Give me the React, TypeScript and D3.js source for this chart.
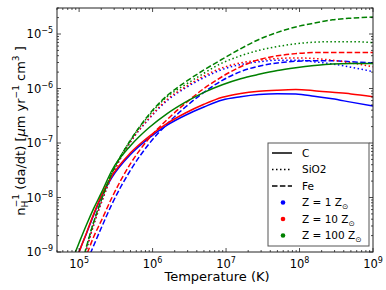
import * as d3 from "d3";

// temperature grid (K) and log10 of n_H^-1 da/dt
const temperature = [
  8.9e4, 1e5, 1.26e5, 1.58e5, 2e5, 2.8e5, 5e5, 8.9e5, 1.58e6, 2.8e6, 5e6, 8.9e6,
  1.58e7, 2.8e7, 5e7, 8.9e7, 1.58e8, 2.8e8, 5e8, 1e9,
];

const cZ1 = [-9.2, -9.0, -8.66, -8.32, -7.99, -7.63, -7.21, -6.91, -6.67, -6.49, -6.34, -6.21, -6.15, -6.11, -6.095, -6.1, -6.14, -6.19, -6.25, -6.32];
const cZ10 = [-9.2, -9.0, -8.65, -8.3, -7.97, -7.6, -7.18, -6.88, -6.64, -6.45, -6.29, -6.16, -6.09, -6.05, -6.03, -6.02, -6.04, -6.07, -6.1, -6.15];
const cZ100 = [-9.0, -8.83, -8.5, -8.2, -7.92, -7.5, -7.05, -6.72, -6.46, -6.25, -6.07, -5.93, -5.82, -5.74, -5.67, -5.62, -5.58, -5.55, -5.54, -5.54];

const sioZ1 = [-9.65, -9.45, -8.95, -8.5, -8.1, -7.6, -6.98, -6.56, -6.22, -5.99, -5.8, -5.65, -5.56, -5.51, -5.48, -5.48, -5.51, -5.55, -5.61, -5.69];
const sioZ10 = [-9.65, -9.45, -8.95, -8.5, -8.1, -7.6, -6.98, -6.55, -6.2, -5.97, -5.77, -5.62, -5.53, -5.48, -5.45, -5.44, -5.45, -5.48, -5.53, -5.6];
const sioZ100 = [-9.6, -9.4, -8.9, -8.45, -8.05, -7.55, -6.95, -6.5, -6.15, -5.93, -5.72, -5.53, -5.4, -5.3, -5.23, -5.18, -5.15, -5.14, -5.14, -5.16];

const feZ1 = [-9.7, -9.55, -9.2, -8.88, -8.56, -8.12, -7.5, -7.02, -6.65, -6.34, -6.07, -5.85, -5.69, -5.59, -5.53, -5.5, -5.49, -5.49, -5.51, -5.53];
const feZ10 = [-9.55, -9.4, -9.06, -8.72, -8.43, -8.0, -7.38, -6.92, -6.57, -6.27, -6.0, -5.78, -5.6, -5.47, -5.4, -5.36, -5.34, -5.34, -5.34, -5.34];
const feZ100 = [-9.6, -9.4, -8.9, -8.45, -8.05, -7.55, -6.95, -6.48, -6.13, -5.88, -5.66, -5.46, -5.27, -5.1, -4.97, -4.87, -4.8, -4.74, -4.71, -4.69];

const species = ["C", "SiO2", "Fe"];
const zLabels = ["1", "10", "100"];
const colors = ["#0000ff", "#ff0000", "#008000"];
const dashes = [null, "1.5,2.5", "5.5,2.4"];
const rates = [
  [cZ1, cZ10, cZ100],
  [sioZ1, sioZ10, sioZ100],
  [feZ1, feZ10, feZ100],
];

export default function App() {
  const width = 386;
  const height = 290;
  const left = 57, right = 373, top = 8, bottom = 252;
  const font = "DejaVu Sans";

  const x = d3.scaleLog([5e4, 1e9], [left, right]);
  const y = d3.scaleLog([1e-9, 3e-5], [bottom, top]);

  const line = d3
    .line<number>()
    .x((_, i) => x(temperature[i]))
    .y((d) => y(Math.pow(10, d)))
    .curve(d3.curveMonotoneX);

  const isMajor = (v: number) => Math.abs(Math.log10(v) - Math.round(Math.log10(v))) < 1e-6;
  const xTicks = x.ticks();
  const yTicks = y.ticks();

  const legendX = 268, legendY = 143, legendW = 101, legendH = 103;
  const rowY = (k: number) => 153 + k * 16.5;

  return (
    <svg width={width} height={height} style={{ position: "absolute", left: 0, top: 0 }} fontFamily={font}>
      <rect width={width} height={height} fill="white" />
      <defs>
        <clipPath id="plot">
          <rect x={left} y={top} width={right - left} height={bottom - top} />
        </clipPath>
      </defs>

      <g clipPath="url(#plot)" fill="none" strokeWidth={1.5}>
        {[0, 1, 2].map((z) =>
          [0, 1, 2].map((s) => (
            <path
              key={`${z}-${s}`}
              d={line(rates[s][z]) ?? ""}
              stroke={colors[z]}
              strokeDasharray={dashes[s] ?? undefined}
            />
          ))
        )}
      </g>

      {/* ticks on all four sides, pointing in */}
      <g stroke="#000" strokeWidth={0.7}>
        {xTicks.map((t, i) => {
          const len = isMajor(t) ? 4 : 2;
          const px = x(t);
          return (
            <g key={i}>
              <line x1={px} x2={px} y1={bottom} y2={bottom - len} />
              <line x1={px} x2={px} y1={top} y2={top + len} />
            </g>
          );
        })}
        {yTicks.map((t, i) => {
          const len = isMajor(t) ? 4 : 2;
          const py = y(t);
          return (
            <g key={i}>
              <line x1={left} x2={left + len} y1={py} y2={py} />
              <line x1={right} x2={right - len} y1={py} y2={py} />
            </g>
          );
        })}
      </g>
      <rect x={left} y={top} width={right - left} height={bottom - top} fill="none" stroke="#222" strokeWidth={1} />

      <g fontSize={11.5} fill="#000">
        {xTicks.filter(isMajor).map((t, i) => (
          <text key={i} x={x(t)} y={267.5} textAnchor="middle">
            10<tspan fontSize={8} dy={-5}>{Math.round(Math.log10(t))}</tspan>
          </text>
        ))}
        {yTicks.filter(isMajor).map((t, i) => (
          <text key={i} x={53} y={y(t) + 4} textAnchor="end">
            10<tspan fontSize={8} dy={-5}>{"\u2212" + Math.abs(Math.round(Math.log10(t)))}</tspan>
          </text>
        ))}
      </g>

      <text x={217} y={281} textAnchor="middle" fontSize={13}>
        Temperature (K)
      </text>

      <text transform={`translate(25,131) rotate(-90)`} textAnchor="middle" fontSize={13}>
        n
        <tspan fontSize={9} dy={3}>H</tspan>
        <tspan fontSize={9} dx={-6.5} dy={-9}>{"\u22121"}</tspan>
        <tspan dy={6}> (da/dt) [</tspan>
        <tspan fontStyle="italic">μ</tspan>
        <tspan>m yr</tspan>
        <tspan fontSize={9} dy={-6}>{"\u22121"}</tspan>
        <tspan dy={6}> cm</tspan>
        <tspan fontSize={9} dy={-6}>3</tspan>
        <tspan dy={6}> ]</tspan>
      </text>

      <g>
        <rect x={legendX} y={legendY} width={legendW} height={legendH} fill="white" stroke="#555" strokeWidth={1} />
        {species.map((s, k) => (
          <g key={s}>
            <line
              x1={272}
              x2={292}
              y1={rowY(k)}
              y2={rowY(k)}
              stroke="#000"
              strokeWidth={1.5}
              strokeDasharray={dashes[k] ?? undefined}
            />
            <text x={302} y={rowY(k)} dy="0.36em" fontSize={10.5}>
              {s}
            </text>
          </g>
        ))}
        {zLabels.map((z, k) => (
          <g key={z}>
            <circle cx={283} cy={rowY(k + 3)} r={2.3} fill={colors[k]} />
            <text x={302} y={rowY(k + 3)} dy="0.36em" fontSize={10.5}>
              {`Z = ${z} Z`}
              <tspan fontSize={7.5} dy={3}>{"\u2299"}</tspan>
            </text>
          </g>
        ))}
      </g>
    </svg>
  );
}
